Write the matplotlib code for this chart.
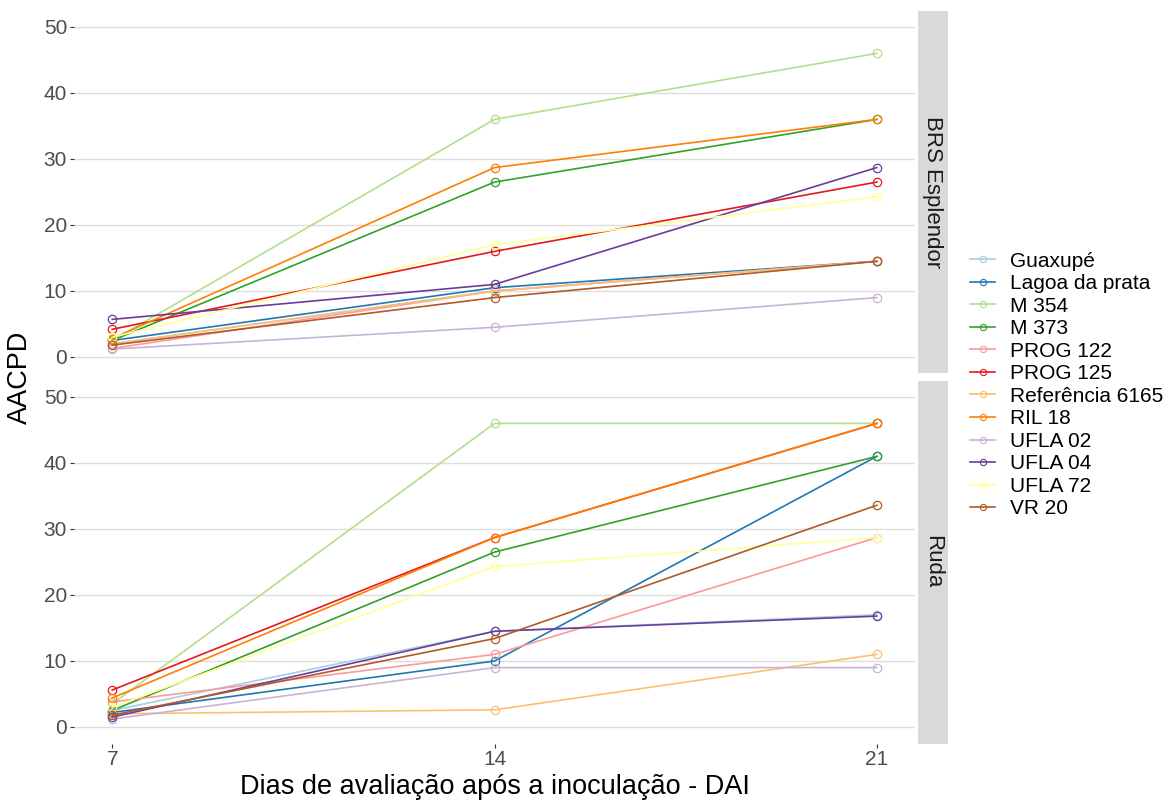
import matplotlib
matplotlib.use('Agg')
import matplotlib.pyplot as plt
from matplotlib.lines import Line2D

plt.rcParams['font.family'] = ['Liberation Sans', 'DejaVu Sans']

days = [7, 14, 21]
cultivars = ['Guaxupé', 'Lagoa da prata', 'M 354', 'M 373', 'PROG 122', 'PROG 125',
             'Referência 6165', 'RIL 18', 'UFLA 02', 'UFLA 04', 'UFLA 72', 'VR 20']
colors = ['#A6CEE3', '#1F78B4', '#B2DF8A', '#33A02C', '#FB9A99', '#E31A1C',
          '#FDBF6F', '#FF7F00', '#CAB2D6', '#6A3D9A', '#FFFF99', '#B15928']

# AACPD per cultivar, BRS Esplendor
brs = [
    [2.0, 10.0, 14.5],
    [2.5, 10.5, 14.5],
    [2.5, 36.0, 46.0],
    [2.5, 26.5, 36.0],
    [1.3, 10.0, 14.5],
    [4.2, 16.0, 26.5],
    [2.0, 10.0, 14.5],
    [2.8, 28.7, 36.0],
    [1.2, 4.5, 9.0],
    [5.7, 11.0, 28.7],
    [3.0, 17.0, 24.3],
    [1.8, 9.0, 14.5],
]
# AACPD per cultivar, Ruda
ruda = [
    [2.5, 14.5, 17.0],
    [2.2, 10.0, 41.0],
    [3.5, 46.0, 46.0],
    [2.5, 26.5, 41.0],
    [3.8, 11.0, 28.7],
    [5.6, 28.7, 46.0],
    [2.0, 2.6, 11.0],
    [4.4, 28.7, 46.0],
    [1.2, 9.0, 9.0],
    [1.5, 14.5, 16.8],
    [3.0, 24.3, 28.7],
    [1.8, 13.4, 33.6],
]
panels = [('BRS Esplendor', brs), ('Ruda', ruda)]

fig = plt.figure(figsize=(11.72, 8.02), dpi=100)
W, H = 1172, 802

def fx(px):
    return px / W

def fy(py):
    return 1 - py / H

boxes = [(10.5, 373.5), (380.5, 743.5)]
for (name, data), (top, bot) in zip(panels, boxes):
    ax = fig.add_axes([fx(74), fy(bot), fx(915 - 74), (bot - top) / H])
    for vals, c in zip(data, colors):
        ax.plot(days, vals, color=c, lw=1.2, marker='o', ms=6, mfc='none',
                mec=c, mew=0.9)
    ax.set_xlim(6.3, 21.7)
    ax.set_ylim(-2.5, 52.5)
    ax.set_yticks([0, 10, 20, 30, 40, 50])
    ax.set_xticks(days)
    ax.grid(axis='y', color='#DEDEDE', lw=1.0)
    ax.set_axisbelow(True)
    for s in ax.spines.values():
        s.set_visible(False)
    ax.tick_params(length=3, width=0.8, color='#333333', labelsize=15,
                   labelcolor='#4D4D4D', pad=2)
    if name == 'BRS Esplendor':
        ax.tick_params(axis='x', length=0)
        ax.set_xticklabels([])
    else:
        ax.set_xlabel('Dias de avaliação após a inoculação - DAI', fontsize=19.5, labelpad=3)

    sax = fig.add_axes([fx(918), fy(bot), fx(948 - 918), (bot - top) / H])
    sax.set_facecolor('#D9D9D9')
    sax.set_xticks([])
    sax.set_yticks([])
    for s in sax.spines.values():
        s.set_visible(False)
    sax.text(0.5, 0.5, name, rotation=-90, ha='center', va='center', fontsize=16,
             color='#1A1A1A', transform=sax.transAxes)

fig.text(fx(20), fy(377), 'AACPD', rotation=90, ha='center', va='center', fontsize=19.5)

handles = [Line2D([0], [0], color=c, lw=1.2, marker='o', ms=4.5, mfc='none', mec=c, mew=0.8)
           for c in colors]
fig.legend(handles, cultivars, loc='center left', bbox_to_anchor=(fx(962), fy(385)),
           frameon=False, fontsize=15, handlelength=1.2, labelspacing=0.17,
           handletextpad=0.7, borderaxespad=0)

fig.savefig('out.png', dpi=100)
